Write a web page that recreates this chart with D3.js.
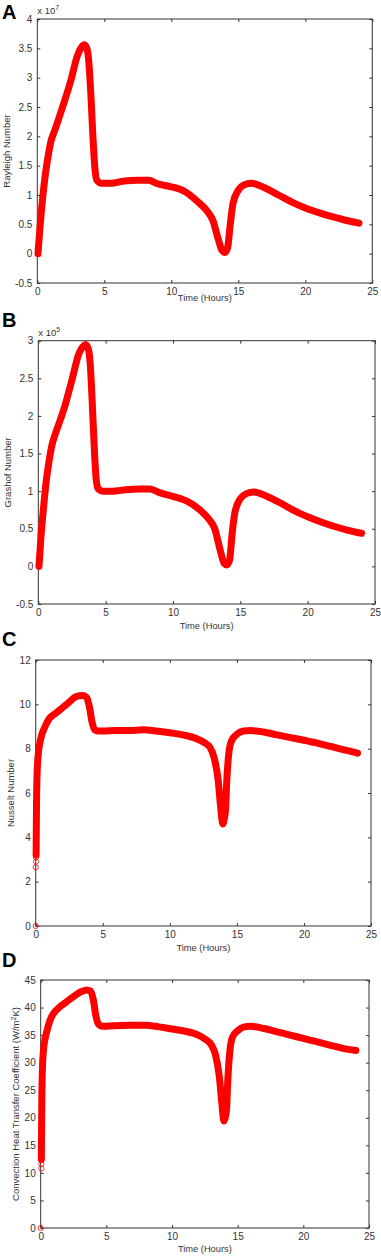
<!DOCTYPE html>
<html>
<head>
<meta charset="utf-8">
<script src="https://cdn.jsdelivr.net/npm/d3@7"></script>
<style>
  body { margin: 0; background: #fff; }
  svg { display: block; font-family: "Liberation Sans", Arial, sans-serif; }
</style>
</head>
<body>
<svg id="chart" width="381" height="1257"></svg>
<script>
// time axis ticks (hours)
const timeTicks = [0, 5, 10, 15, 20, 25];

// A: Rayleigh number (x 1e7)
const timeA = [0.05, 0.2, 0.4, 0.6, 0.8, 1.0, 1.3, 1.6, 2.0, 2.5, 3.0, 3.3, 3.5, 3.7, 3.85, 4.0, 4.15, 4.3, 4.45, 4.8, 5.5, 6.5, 7.5, 8.3, 9, 10, 11, 12, 12.7, 13.1, 13.5, 13.8, 14.0, 14.2, 14.4, 14.6, 15.0, 15.5, 16, 17, 18, 19, 20, 21, 22, 23, 24];
const rayleigh = [0.0, 0.45, 0.95, 1.35, 1.65, 1.9, 2.1, 2.3, 2.58, 2.95, 3.38, 3.52, 3.56, 3.5, 3.25, 2.7, 2.0, 1.45, 1.25, 1.2, 1.2, 1.24, 1.25, 1.25, 1.19, 1.14, 1.06, 0.88, 0.72, 0.57, 0.25, 0.05, 0.02, 0.1, 0.5, 0.85, 1.08, 1.18, 1.2, 1.12, 1.0, 0.88, 0.78, 0.7, 0.63, 0.57, 0.52];
const rayleighTicks = [-0.5, 0, 0.5, 1, 1.5, 2, 2.5, 3, 3.5, 4];

// B: Grashof number (x 1e5)
const timeB = [0.05, 0.2, 0.4, 0.6, 0.8, 1.0, 1.3, 1.6, 2.0, 2.5, 3.0, 3.3, 3.5, 3.7, 3.85, 4.0, 4.15, 4.3, 4.45, 4.8, 5.5, 6.5, 7.5, 8.3, 9, 10, 11, 12, 12.7, 13.1, 13.5, 13.8, 14.0, 14.2, 14.4, 14.6, 15, 15.5, 16, 17, 18, 19, 20, 21, 22, 23, 24];
const grashof = [0.0, 0.4, 0.8, 1.15, 1.4, 1.6, 1.78, 1.93, 2.15, 2.48, 2.82, 2.92, 2.95, 2.9, 2.7, 2.2, 1.6, 1.15, 1.03, 1.0, 1.0, 1.02, 1.03, 1.03, 0.98, 0.93, 0.87, 0.75, 0.62, 0.5, 0.22, 0.04, 0.02, 0.08, 0.45, 0.72, 0.9, 0.97, 0.99, 0.93, 0.84, 0.74, 0.66, 0.59, 0.53, 0.48, 0.44];
const grashofTicks = [-0.5, 0, 0.5, 1, 1.5, 2, 2.5, 3];

// C: Nusselt number
const timeC = [0.03, 0.06, 0.1, 0.2, 0.4, 0.7, 1.0, 1.5, 2.0, 2.5, 3.0, 3.5, 3.8, 4.0, 4.2, 4.4, 4.7, 5, 6, 7, 8, 9, 10, 11, 12, 12.5, 13, 13.3, 13.6, 13.8, 13.95, 14.05, 14.15, 14.25, 14.4, 14.6, 15, 15.5, 16, 17, 18, 19, 20, 21, 22, 23, 24];
const nusselt = [3.2, 5.5, 6.8, 7.8, 8.5, 9.0, 9.35, 9.6, 9.85, 10.1, 10.35, 10.4, 10.3, 9.9, 9.2, 8.85, 8.8, 8.8, 8.82, 8.82, 8.85, 8.8, 8.72, 8.62, 8.45, 8.3, 8.05, 7.6, 6.6, 5.3, 4.6, 4.8, 5.2, 6.6, 7.8, 8.35, 8.65, 8.8, 8.82, 8.75, 8.62, 8.5, 8.38, 8.25, 8.1, 7.95, 7.8];
const nusseltStartT = [0, 0, 0.02, 0.03];
const nusseltStart = [0, 2.65, 2.9, 3.1];
const nusseltTicks = [0, 2, 4, 6, 8, 10, 12];

// D: convection heat transfer coefficient
const timeD = [0.05, 0.08, 0.12, 0.2, 0.35, 0.5, 0.8, 1.0, 1.5, 2.0, 2.5, 3.0, 3.5, 3.8, 4.0, 4.2, 4.4, 4.7, 5, 6, 7, 8, 9, 10, 11, 12, 12.5, 13, 13.3, 13.6, 13.8, 13.95, 14.05, 14.15, 14.25, 14.4, 14.6, 15, 15.5, 16, 17, 18, 19, 20, 21, 22, 23, 24];
const htc = [12.5, 22, 28, 32, 34.5, 36, 38.2, 39, 40.2, 41.1, 42, 42.8, 43.2, 43.0, 41.5, 38.5, 37, 36.6, 36.6, 36.75, 36.8, 36.8, 36.5, 36.1, 35.7, 35.0, 34.3, 33.2, 31.5, 27.5, 22.5, 19.4, 20, 21.5, 27, 32, 34.6, 35.8, 36.5, 36.6, 36.2, 35.6, 35.0, 34.4, 33.8, 33.2, 32.6, 32.2];
const htcStartT = [0, 0.05, 0.05, 0.05, 0.05];
const htcStart = [0, 10.8, 11.6, 12.3, 13.0];
const htcTicks = [0, 5, 10, 15, 20, 25, 30, 35, 40, 45];

const panels = [
  { letter: "A", t: timeA, v: rayleigh, ticks: rayleighTicks, ylabel: "Rayleigh Number", exp: "7",
    left: 37.3, right: 372.3, top: 19, bottom: 283, letterY: 19, titleY: 301, ylabelX: 6.5 },
  { letter: "B", t: timeB, v: grashof, ticks: grashofTicks, ylabel: "Grashof Number", exp: "5",
    left: 38.3, right: 375, top: 340.7, bottom: 604, letterY: 327, titleY: 629, ylabelX: 7.5 },
  { letter: "C", t: timeC, v: nusselt, ticks: nusseltTicks, ylabel: "Nusselt Number",
    st: nusseltStartT, sv: nusseltStart,
    left: 35.7, right: 371, top: 660, bottom: 926, letterY: 646, titleY: 951, ylabelX: 11 },
  { letter: "D", t: timeD, v: htc, ticks: htcTicks, ylabel: "Convection Heat Transfer Coefficient (W/m", ysup: "2", yend: "K)",
    st: htcStartT, sv: htcStart,
    left: 40.7, right: 369, top: 980, bottom: 1228, letterY: 967, titleY: 1252, ylabelX: 15.5 }
];

const svg = d3.select("#chart");
const axisColor = "#333";

panels.forEach(p => {
  const x = d3.scaleLinear().domain([0, 25]).range([p.left, p.right]);
  const y = d3.scaleLinear().domain(d3.extent(p.ticks)).range([p.bottom, p.top]);
  const g = svg.append("g");

  // panel letter
  g.append("text").attr("x", 2).attr("y", p.letterY)
    .attr("font-size", 20).attr("font-weight", "bold").attr("fill", "#000")
    .text(p.letter);

  // axes (ticks inside, box on)
  const fmt = d => String(d);
  const styleAxis = sel => {
    sel.select(".domain").remove();
    sel.selectAll("line").attr("stroke", axisColor);
    sel.selectAll("text").attr("fill", axisColor).attr("font-size", 10)
      .attr("font-family", "'Liberation Sans', Arial, sans-serif");
  };
  g.append("g").attr("transform", `translate(0,${p.bottom})`)
    .call(d3.axisBottom(x).tickValues(timeTicks).tickFormat(fmt).tickSize(-3).tickPadding(5))
    .call(styleAxis);
  g.append("g").attr("transform", `translate(0,${p.top})`)
    .call(d3.axisTop(x).tickValues(timeTicks).tickFormat("").tickSize(-3))
    .call(styleAxis);
  g.append("g").attr("transform", `translate(${p.left},0)`)
    .call(d3.axisLeft(y).tickValues(p.ticks).tickFormat(fmt).tickSize(-3).tickPadding(5))
    .call(styleAxis);
  g.append("g").attr("transform", `translate(${p.right},0)`)
    .call(d3.axisRight(y).tickValues(p.ticks).tickFormat("").tickSize(-3))
    .call(styleAxis);

  g.append("rect").attr("x", p.left).attr("y", p.top)
    .attr("width", p.right - p.left).attr("height", p.bottom - p.top)
    .attr("fill", "none").attr("stroke", axisColor).attr("stroke-width", 1);

  // exponent
  if (p.exp) {
    const e = g.append("text").attr("x", p.left).attr("y", p.top - 5)
      .attr("font-size", 9.5).attr("fill", axisColor);
    e.append("tspan").text("x 10");
    e.append("tspan").attr("dy", -4).attr("font-size", 7).text(p.exp);
  }

  // axis titles
  g.append("text").attr("x", (p.left + p.right) / 2).attr("y", p.titleY)
    .attr("text-anchor", "middle").attr("font-size", 9.3).attr("fill", axisColor)
    .text("Time (Hours)");
  const yl = g.append("text")
    .attr("transform", `translate(${p.ylabelX},${(p.top + p.bottom) / 2}) rotate(-90)`)
    .attr("text-anchor", "middle").attr("dy", "0.35em")
    .attr("font-size", 9.5).attr("fill", axisColor);
  yl.append("tspan").text(p.ylabel);
  if (p.ysup) {
    yl.append("tspan").attr("dy", -3).attr("font-size", 7).text(p.ysup);
    yl.append("tspan").attr("dy", 3).text(p.yend);
  }

  // data
  const pts = p.t.map((t, i) => [t, p.v[i]]);
  const line = d3.line().x(d => x(d[0])).y(d => y(d[1])).curve(d3.curveMonotoneX);
  g.append("path").datum(pts).attr("d", line)
    .attr("fill", "none").attr("stroke", "#ff0000").attr("stroke-width", 7)
    .attr("stroke-linecap", "round").attr("stroke-linejoin", "round");

  if (p.st) {
    g.selectAll("circle.start").data(p.st.map((t, i) => [t, p.sv[i]])).enter()
      .append("circle").attr("class", "start")
      .attr("cx", d => x(d[0])).attr("cy", d => y(d[1])).attr("r", 2.6)
      .attr("fill", "none").attr("stroke", "#ff0000").attr("stroke-width", 0.8);
  }
});
</script>
</body>
</html>
